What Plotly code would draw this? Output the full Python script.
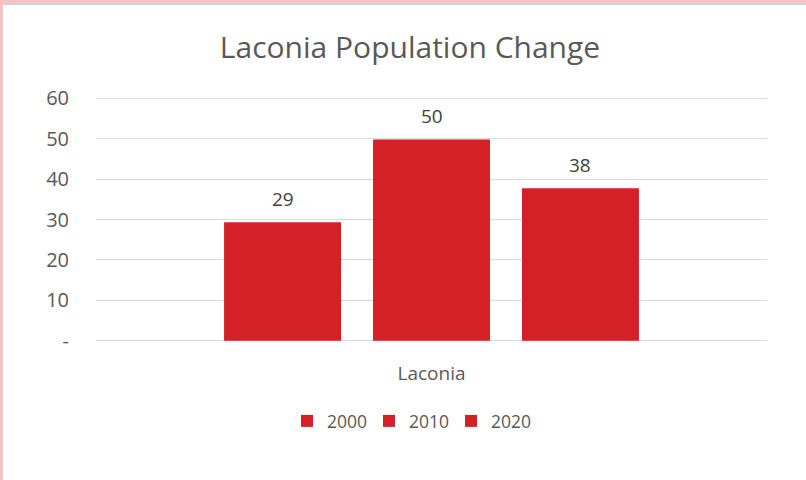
import plotly.graph_objects as go

categories = ["Laconia"]
series_names = ["2000", "2010", "2020"]
series_values = [[29.3], [49.8], [37.7]]
label_texts = ["29", "50", "38"]
y_tickvals = [0, 10, 20, 30, 40, 50, 60]
y_ticktext = ["-", "10", "20", "30", "40", "50", "60"]

RED = "#D52027"
GREY_TEXT = "#595959"
FONT = "Open Sans"

fig = go.Figure()
for name, vals in zip(series_names, series_values):
    fig.add_trace(go.Bar(
        x=categories, y=vals, name=name,
        marker=dict(color=RED, line=dict(width=0)),
    ))

# data labels above bars
offsets = [-149, 0, 148]
for vals, txt, dx in zip(series_values, label_texts, offsets):
    fig.add_annotation(
        x=categories[0], y=vals[0], text=txt, showarrow=False,
        xshift=dx, yshift=23, yanchor="middle",
        font=dict(family=FONT, size=19, color="#404040"),
    )

W, H = 806, 480
ml, mr, mt, mb = 96, 39, 97, 138
pw, ph = W - ml - mr, H - mt - mb

# pink frame: white card shape over pink paper
fig.add_shape(
    type="rect", xref="paper", yref="paper", layer="below",
    x0=(3 - ml) / pw, x1=(W + 5 - ml) / pw,
    y0=(-mb - 5) / ph, y1=(H - 4 - mb) / ph,
    fillcolor="white", line=dict(width=0),
)
fig.add_shape(
    type="line", xref="paper", yref="paper", layer="below",
    x0=(3 - ml) / pw, x1=(W + 5 - ml) / pw,
    y0=(H - 4.5 - mb) / ph, y1=(H - 4.5 - mb) / ph,
    line=dict(color="#C9D3D6", width=1),
)

fig.update_layout(
    width=W, height=H,
    margin=dict(l=ml, r=mr, t=mt, b=mb),
    paper_bgcolor="#F5C3C3",
    plot_bgcolor="white",
    barmode="group",
    bargap=0.334,
    bargroupgap=0.215,
    title=dict(
        text="Laconia Population Change",
        x=410 / W, xanchor="center", y=1 - 47 / H, yanchor="middle",
        font=dict(family=FONT, size=30, color=GREY_TEXT),
    ),
    font=dict(family=FONT, color=GREY_TEXT, size=16),
    showlegend=True,
    legend=dict(
        orientation="h", x=(410 - ml) / pw, xanchor="center",
        y=(H - 421 - mb) / ph, yanchor="middle",
        font=dict(family=FONT, size=17.5, color=GREY_TEXT),
        bgcolor="rgba(0,0,0,0)",
        entrywidth=37, entrywidthmode="pixels",
    ),
)
fig.update_yaxes(
    range=[-0.3, 60.3], tickvals=y_tickvals, ticktext=y_ticktext,
    showgrid=True, gridcolor="#D9D9D9", gridwidth=1,
    zeroline=False, showline=False, ticks="",
    ticklabelstandoff=26,
    tickfont=dict(family=FONT, size=20, color=GREY_TEXT),
)
fig.update_xaxes(
    showgrid=False, zeroline=False, showline=False, ticks="",
    ticklabelstandoff=18,
    tickfont=dict(family=FONT, size=19, color=GREY_TEXT),
)

fig.write_html(
    "out.html",
    config={"displayModeBar": False},
    post_script="document.body.style.margin='0';",
)
